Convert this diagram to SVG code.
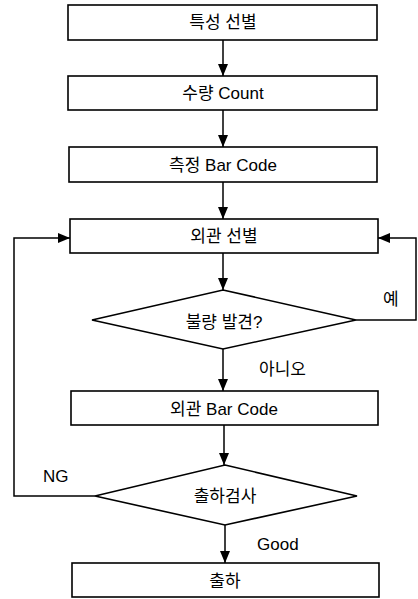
<svg xmlns="http://www.w3.org/2000/svg" width="418" height="599" viewBox="0 0 418 599">
  <style>
    .box { fill: #fff; stroke: #000; stroke-width: 1.6; }
    .lbl { font-family: "Liberation Sans", "Noto Sans CJK KR", sans-serif; font-size: 17px; fill: #000; }
    .mid { text-anchor: middle; }
    .wire { fill: none; stroke: #000; stroke-width: 1.5; }
  </style>
  <defs>
    <marker id="arrow" viewBox="0 0 12 10" refX="12" refY="5" markerWidth="12" markerHeight="10" markerUnits="userSpaceOnUse" orient="auto">
      <path d="M0,0 L12,5 L0,10 Z" fill="#000"/>
    </marker>
  </defs>
  <rect width="418" height="599" fill="#fff"/>

  <g id="connectors">
    <line class="wire" x1="223" y1="40" x2="223" y2="76" marker-end="url(#arrow)"/>
    <line class="wire" x1="223" y1="110" x2="223" y2="147" marker-end="url(#arrow)"/>
    <line class="wire" x1="223" y1="182" x2="223" y2="219" marker-end="url(#arrow)"/>
    <line class="wire" x1="223" y1="253" x2="223" y2="290" marker-end="url(#arrow)"/>
    <line class="wire" x1="223" y1="349" x2="223" y2="391" marker-end="url(#arrow)"/>
    <line class="wire" x1="224" y1="425" x2="224" y2="465" marker-end="url(#arrow)"/>
    <line class="wire" x1="225" y1="525" x2="225" y2="563" marker-end="url(#arrow)"/>
    <!-- defect found: back to visual sorting from the right -->
    <polyline class="wire" points="356,320 416,320 416,238 378,238" marker-end="url(#arrow)"/>
    <!-- NG: back to visual sorting from the left -->
    <polyline class="wire" points="95,496 14,496 14,238 70,238" marker-end="url(#arrow)"/>
    <text class="lbl" x="383" y="305">예</text>
    <text class="lbl" x="259" y="375">아니오</text>
    <text class="lbl" x="43" y="482">NG</text>
    <text class="lbl" x="257" y="550">Good</text>
  </g>

  <g id="sort-property">
    <rect class="box" x="68" y="5" width="309" height="35"/>
    <text class="lbl mid" x="223" y="28">특성 선별</text>
  </g>
  <g id="count">
    <rect class="box" x="68" y="76" width="309" height="34"/>
    <text class="lbl mid" x="223" y="99">수량 Count</text>
  </g>
  <g id="measure-barcode">
    <rect class="box" x="69" y="147" width="308" height="35"/>
    <text class="lbl mid" x="223" y="171">측정 Bar Code</text>
  </g>
  <g id="visual-sort">
    <rect class="box" x="70" y="219" width="308" height="34"/>
    <text class="lbl mid" x="224" y="242">외관 선별</text>
  </g>
  <g id="defect-check">
    <polygon class="box" points="223,290 356,320 223,349 92,320"/>
    <text class="lbl mid" x="224" y="328">불량 발견?</text>
  </g>
  <g id="visual-barcode">
    <rect class="box" x="71" y="391" width="307" height="34"/>
    <text class="lbl mid" x="224" y="415">외관 Bar Code</text>
  </g>
  <g id="shipping-inspection">
    <polygon class="box" points="225,465 357,496 225,525 95,496"/>
    <text class="lbl mid" x="225" y="502">출하검사</text>
  </g>
  <g id="ship">
    <rect class="box" x="72" y="563" width="307" height="34"/>
    <text class="lbl mid" x="225" y="587">출하</text>
  </g>
</svg>
